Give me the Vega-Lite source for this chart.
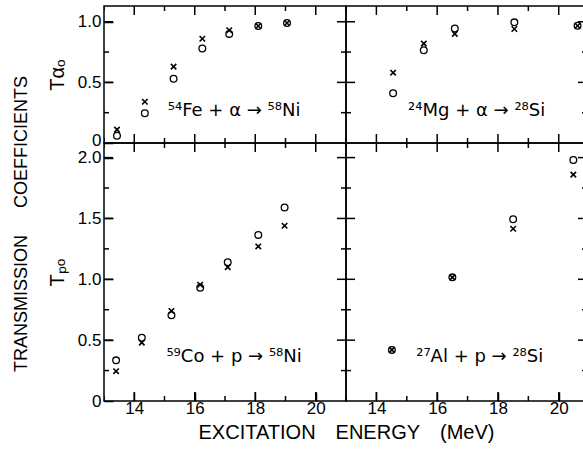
{
  "$schema": "https://vega.github.io/schema/vega-lite/v6.json",
  "padding": {"left": 12, "top": 5, "right": 0, "bottom": 5},
  "background": "white",
  "bounds": "flush",
  "spacing": 0,
  "columns": 2,
  "title": {"text": "TRANSMISSION\u2003\u2002COEFFICIENTS", "orient": "left", "anchor": "middle", "fontSize": 18, "fontWeight": "normal", "font": "Liberation Sans", "color": "black", "offset": 16},
  "config": {
    "view": {"stroke": "black", "strokeWidth": 1.5},
    "axis": {"grid": false, "domain": false, "tickColor": "black", "tickWidth": 1.5, "labelFont": "Liberation Sans", "labelFontSize": 17, "labelColor": "black", "titleFont": "Liberation Sans", "titleFontWeight": "normal", "titleColor": "black", "titleFontSize": 20, "labelOverlap": false, "labelFlush": false, "labelBound": false},
    "tick": {"color": "black", "opacity": 1, "thickness": 1.5},
    "font": "Liberation Sans"
  },
  "datasets": {
    "xt": [
      {"v": 13, "major": false}, {"v": 14, "major": true}, {"v": 15, "major": false}, {"v": 16, "major": true},
      {"v": 17, "major": false}, {"v": 18, "major": true}, {"v": 19, "major": false}, {"v": 20, "major": true}, {"v": 21, "major": false}
    ],
    "ytA": [
      {"v": 0.25, "major": false}, {"v": 0.5, "major": true}, {"v": 0.75, "major": false}, {"v": 1.0, "major": true}
    ],
    "ytP": [
      {"v": 0.25, "major": false}, {"v": 0.5, "major": true}, {"v": 0.75, "major": false}, {"v": 1.0, "major": true},
      {"v": 1.25, "major": false}, {"v": 1.5, "major": true}, {"v": 1.75, "major": false}, {"v": 2.0, "major": true}
    ],
    "pts": [
      {"panel": "fe", "symbol": "circle", "E": 13.43, "T": 0.06},
      {"panel": "fe", "symbol": "circle", "E": 14.35, "T": 0.245},
      {"panel": "fe", "symbol": "circle", "E": 15.3, "T": 0.53},
      {"panel": "fe", "symbol": "circle", "E": 16.25, "T": 0.78},
      {"panel": "fe", "symbol": "circle", "E": 17.14, "T": 0.9},
      {"panel": "fe", "symbol": "circle", "E": 18.1, "T": 0.965},
      {"panel": "fe", "symbol": "circle", "E": 19.05, "T": 0.99},
      {"panel": "fe", "symbol": "cross", "E": 13.43, "T": 0.11},
      {"panel": "fe", "symbol": "cross", "E": 14.35, "T": 0.34},
      {"panel": "fe", "symbol": "cross", "E": 15.3, "T": 0.63},
      {"panel": "fe", "symbol": "cross", "E": 16.25, "T": 0.86},
      {"panel": "fe", "symbol": "cross", "E": 17.14, "T": 0.93},
      {"panel": "fe", "symbol": "cross", "E": 18.1, "T": 0.965},
      {"panel": "fe", "symbol": "cross", "E": 19.05, "T": 0.99},
      {"panel": "mg", "symbol": "circle", "E": 14.55, "T": 0.41},
      {"panel": "mg", "symbol": "circle", "E": 15.56, "T": 0.765},
      {"panel": "mg", "symbol": "circle", "E": 16.58, "T": 0.945},
      {"panel": "mg", "symbol": "circle", "E": 18.54, "T": 0.995},
      {"panel": "mg", "symbol": "circle", "E": 20.62, "T": 0.967},
      {"panel": "mg", "symbol": "cross", "E": 14.55, "T": 0.58},
      {"panel": "mg", "symbol": "cross", "E": 15.56, "T": 0.82},
      {"panel": "mg", "symbol": "cross", "E": 16.58, "T": 0.9},
      {"panel": "mg", "symbol": "cross", "E": 18.54, "T": 0.94},
      {"panel": "mg", "symbol": "cross", "E": 20.62, "T": 0.967},
      {"panel": "co", "symbol": "circle", "E": 13.4, "T": 0.334},
      {"panel": "co", "symbol": "circle", "E": 14.25, "T": 0.52},
      {"panel": "co", "symbol": "circle", "E": 15.23, "T": 0.705},
      {"panel": "co", "symbol": "circle", "E": 16.18, "T": 0.93},
      {"panel": "co", "symbol": "circle", "E": 17.09, "T": 1.14},
      {"panel": "co", "symbol": "circle", "E": 18.1, "T": 1.365},
      {"panel": "co", "symbol": "circle", "E": 18.97, "T": 1.59},
      {"panel": "co", "symbol": "cross", "E": 13.4, "T": 0.245},
      {"panel": "co", "symbol": "cross", "E": 14.25, "T": 0.48},
      {"panel": "co", "symbol": "cross", "E": 15.23, "T": 0.74},
      {"panel": "co", "symbol": "cross", "E": 16.18, "T": 0.955},
      {"panel": "co", "symbol": "cross", "E": 17.09, "T": 1.1},
      {"panel": "co", "symbol": "cross", "E": 18.1, "T": 1.27},
      {"panel": "co", "symbol": "cross", "E": 18.97, "T": 1.44},
      {"panel": "al", "symbol": "circle", "E": 14.51, "T": 0.42},
      {"panel": "al", "symbol": "circle", "E": 16.5, "T": 1.016},
      {"panel": "al", "symbol": "circle", "E": 18.5, "T": 1.494},
      {"panel": "al", "symbol": "circle", "E": 20.48, "T": 1.98},
      {"panel": "al", "symbol": "cross", "E": 14.51, "T": 0.42},
      {"panel": "al", "symbol": "cross", "E": 16.5, "T": 1.016},
      {"panel": "al", "symbol": "cross", "E": 18.5, "T": 1.415},
      {"panel": "al", "symbol": "cross", "E": 20.48, "T": 1.86}
    ]
  },
  "concat": [
    {
      "width": 242, "height": 137,
      "resolve": {"axis": {"x": "independent", "y": "independent"}},
      "layer": [
        {
          "data": {"name": "pts"},
          "transform": [{"filter": "datum.panel === 'fe' && datum.symbol === 'circle'"}],
          "mark": {"type": "point", "shape": "circle", "filled": false, "size": 45, "strokeWidth": 1.3, "color": "black", "opacity": 1},
          "encoding": {
            "x": {"field": "E", "type": "quantitative", "scale": {"domain": [13, 21], "nice": false, "zero": false}, "axis": null},
            "y": {"field": "T", "type": "quantitative", "scale": {"domain": [0, 1.13], "nice": false, "zero": false},
                  "axis": {"orient": "left", "values": [0, 0.5, 1.0], "labelExpr": "datum.value === 0 ? '0' : format(datum.value, '.1f')", "labelOffset": {"condition": {"test": "datum.value === 0", "value": -3}, "value": 0}, "tickSize": 9, "offset": -9, "labelPadding": 3, "title": "Tαₒ", "titlePadding": 10}}
          }
        },
        {
          "data": {"name": "pts"},
          "transform": [{"filter": "datum.panel === 'fe' && datum.symbol === 'cross'"}],
          "mark": {"type": "point", "shape": "M-1,-1L1,1M1,-1L-1,1", "filled": false, "size": 30, "strokeWidth": 1.6, "color": "black", "opacity": 1},
          "encoding": {
            "x": {"field": "E", "type": "quantitative", "axis": null},
            "y": {"field": "T", "type": "quantitative", "axis": null}
          }
        },
        {
          "data": {"values": [{}]},
          "mark": {"type": "text", "font": "DejaVu Sans", "fontSize": 18, "color": "black"},
          "encoding": {
            "x": {"datum": 17.3, "type": "quantitative", "axis": null},
            "y": {"datum": 0.26, "type": "quantitative", "axis": null},
            "text": {"value": "⁵⁴Fe + α → ⁵⁸Ni"}
          }
        },
        {
          "data": {"name": "xt"},
          "mark": {"type": "tick", "orient": "vertical", "clip": true},
          "encoding": {
            "x": {"field": "v", "type": "quantitative", "axis": null},
            "y": {"datum": 0, "type": "quantitative", "axis": null},
            "size": {"condition": {"test": "datum.major", "value": 18}, "value": 10}
          }
        },
        {
          "data": {"name": "xt"},
          "mark": {"type": "tick", "orient": "vertical", "clip": true},
          "encoding": {
            "x": {"field": "v", "type": "quantitative", "axis": null},
            "y": {"datum": 1.13, "type": "quantitative", "axis": null},
            "size": {"condition": {"test": "datum.major", "value": 18}, "value": 10}
          }
        },
        {
          "data": {"name": "ytA"},
          "mark": {"type": "tick", "orient": "horizontal", "clip": true},
          "encoding": {
            "y": {"field": "v", "type": "quantitative", "axis": null},
            "x": {"datum": 13, "type": "quantitative", "axis": null},
            "size": {"condition": {"test": "datum.major", "value": 18}, "value": 10}
          }
        },
        {
          "data": {"name": "ytA"},
          "mark": {"type": "tick", "orient": "horizontal", "clip": true},
          "encoding": {
            "y": {"field": "v", "type": "quantitative", "axis": null},
            "x": {"datum": 21, "type": "quantitative", "axis": null},
            "size": {"condition": {"test": "datum.major", "value": 18}, "value": 10}
          }
        }
      ]
    },
    {
      "width": 241, "height": 137,
      "resolve": {"axis": {"x": "independent", "y": "independent"}},
      "layer": [
        {
          "data": {"name": "pts"},
          "transform": [{"filter": "datum.panel === 'mg' && datum.symbol === 'circle'"}],
          "mark": {"type": "point", "shape": "circle", "filled": false, "size": 45, "strokeWidth": 1.3, "color": "black", "opacity": 1},
          "encoding": {
            "x": {"field": "E", "type": "quantitative", "scale": {"domain": [13, 20.93], "nice": false, "zero": false}, "axis": null},
            "y": {"field": "T", "type": "quantitative", "scale": {"domain": [0, 1.13], "nice": false, "zero": false}, "axis": null}
          }
        },
        {
          "data": {"name": "pts"},
          "transform": [{"filter": "datum.panel === 'mg' && datum.symbol === 'cross'"}],
          "mark": {"type": "point", "shape": "M-1,-1L1,1M1,-1L-1,1", "filled": false, "size": 30, "strokeWidth": 1.6, "color": "black", "opacity": 1},
          "encoding": {
            "x": {"field": "E", "type": "quantitative", "axis": null},
            "y": {"field": "T", "type": "quantitative", "axis": null}
          }
        },
        {
          "data": {"values": [{}]},
          "mark": {"type": "text", "font": "DejaVu Sans", "fontSize": 18, "color": "black"},
          "encoding": {
            "x": {"datum": 17.3, "type": "quantitative", "axis": null},
            "y": {"datum": 0.26, "type": "quantitative", "axis": null},
            "text": {"value": "²⁴Mg + α → ²⁸Si"}
          }
        },
        {
          "data": {"name": "xt"},
          "mark": {"type": "tick", "orient": "vertical", "clip": true},
          "encoding": {
            "x": {"field": "v", "type": "quantitative", "axis": null},
            "y": {"datum": 0, "type": "quantitative", "axis": null},
            "size": {"condition": {"test": "datum.major", "value": 18}, "value": 10}
          }
        },
        {
          "data": {"name": "xt"},
          "mark": {"type": "tick", "orient": "vertical", "clip": true},
          "encoding": {
            "x": {"field": "v", "type": "quantitative", "axis": null},
            "y": {"datum": 1.13, "type": "quantitative", "axis": null},
            "size": {"condition": {"test": "datum.major", "value": 18}, "value": 10}
          }
        },
        {
          "data": {"name": "ytA"},
          "mark": {"type": "tick", "orient": "horizontal", "clip": true},
          "encoding": {
            "y": {"field": "v", "type": "quantitative", "axis": null},
            "x": {"datum": 13, "type": "quantitative", "axis": null},
            "size": {"condition": {"test": "datum.major", "value": 18}, "value": 10}
          }
        },
        {
          "data": {"name": "ytA"},
          "mark": {"type": "tick", "orient": "horizontal", "clip": true},
          "encoding": {
            "y": {"field": "v", "type": "quantitative", "axis": null},
            "x": {"datum": 20.93, "type": "quantitative", "axis": null},
            "size": {"condition": {"test": "datum.major", "value": 18}, "value": 10}
          }
        }
      ]
    },
    {
      "width": 242, "height": 258,
      "resolve": {"axis": {"x": "independent", "y": "independent"}},
      "layer": [
        {
          "data": {"name": "pts"},
          "transform": [{"filter": "datum.panel === 'co' && datum.symbol === 'circle'"}],
          "mark": {"type": "point", "shape": "circle", "filled": false, "size": 45, "strokeWidth": 1.3, "color": "black", "opacity": 1},
          "encoding": {
            "x": {"field": "E", "type": "quantitative", "scale": {"domain": [13, 21], "nice": false, "zero": false},
                  "axis": {"orient": "bottom", "values": [14, 16, 18, 20], "labelPadding": -1, "tickSize": 9, "offset": -9, "title": "EXCITATION\u2003ENERGY\u2003(MeV)", "titleX": 242, "titleAlign": "center", "titleFontSize": 20, "titlePadding": 6}},
            "y": {"field": "T", "type": "quantitative", "scale": {"domain": [0, 2.12], "nice": false, "zero": false},
                  "axis": {"orient": "left", "values": [0, 0.5, 1.0, 1.5, 2.0], "labelExpr": "datum.value === 0 ? '0' : format(datum.value, '.1f')", "tickSize": 9, "offset": -9, "labelPadding": 3, "title": "Tₚₒ", "titlePadding": 10}}
          }
        },
        {
          "data": {"name": "pts"},
          "transform": [{"filter": "datum.panel === 'co' && datum.symbol === 'cross'"}],
          "mark": {"type": "point", "shape": "M-1,-1L1,1M1,-1L-1,1", "filled": false, "size": 30, "strokeWidth": 1.6, "color": "black", "opacity": 1},
          "encoding": {
            "x": {"field": "E", "type": "quantitative", "axis": null},
            "y": {"field": "T", "type": "quantitative", "axis": null}
          }
        },
        {
          "data": {"values": [{}]},
          "mark": {"type": "text", "font": "DejaVu Sans", "fontSize": 18, "color": "black"},
          "encoding": {
            "x": {"datum": 17.3, "type": "quantitative", "axis": null},
            "y": {"datum": 0.36, "type": "quantitative", "axis": null},
            "text": {"value": "⁵⁹Co + p → ⁵⁸Ni"}
          }
        },
        {
          "data": {"name": "xt"},
          "mark": {"type": "tick", "orient": "vertical", "clip": true},
          "encoding": {
            "x": {"field": "v", "type": "quantitative", "axis": null},
            "y": {"datum": 0, "type": "quantitative", "axis": null},
            "size": {"condition": {"test": "datum.major", "value": 18}, "value": 10}
          }
        },
        {
          "data": {"name": "xt"},
          "mark": {"type": "tick", "orient": "vertical", "clip": true},
          "encoding": {
            "x": {"field": "v", "type": "quantitative", "axis": null},
            "y": {"datum": 2.12, "type": "quantitative", "axis": null},
            "size": {"condition": {"test": "datum.major", "value": 18}, "value": 10}
          }
        },
        {
          "data": {"name": "ytP"},
          "mark": {"type": "tick", "orient": "horizontal", "clip": true},
          "encoding": {
            "y": {"field": "v", "type": "quantitative", "axis": null},
            "x": {"datum": 13, "type": "quantitative", "axis": null},
            "size": {"condition": {"test": "datum.major", "value": 18}, "value": 10}
          }
        },
        {
          "data": {"name": "ytP"},
          "mark": {"type": "tick", "orient": "horizontal", "clip": true},
          "encoding": {
            "y": {"field": "v", "type": "quantitative", "axis": null},
            "x": {"datum": 21, "type": "quantitative", "axis": null},
            "size": {"condition": {"test": "datum.major", "value": 18}, "value": 10}
          }
        }
      ]
    },
    {
      "width": 241, "height": 258,
      "resolve": {"axis": {"x": "independent", "y": "independent"}},
      "layer": [
        {
          "data": {"name": "pts"},
          "transform": [{"filter": "datum.panel === 'al' && datum.symbol === 'circle'"}],
          "mark": {"type": "point", "shape": "circle", "filled": false, "size": 45, "strokeWidth": 1.3, "color": "black", "opacity": 1},
          "encoding": {
            "x": {"field": "E", "type": "quantitative", "scale": {"domain": [13, 20.93], "nice": false, "zero": false},
                  "axis": {"orient": "bottom", "values": [14, 16, 18, 20], "labelPadding": -1, "tickSize": 9, "offset": -9, "title": null}},
            "y": {"field": "T", "type": "quantitative", "scale": {"domain": [0, 2.12], "nice": false, "zero": false}, "axis": null}
          }
        },
        {
          "data": {"name": "pts"},
          "transform": [{"filter": "datum.panel === 'al' && datum.symbol === 'cross'"}],
          "mark": {"type": "point", "shape": "M-1,-1L1,1M1,-1L-1,1", "filled": false, "size": 30, "strokeWidth": 1.6, "color": "black", "opacity": 1},
          "encoding": {
            "x": {"field": "E", "type": "quantitative", "axis": null},
            "y": {"field": "T", "type": "quantitative", "axis": null}
          }
        },
        {
          "data": {"values": [{}]},
          "mark": {"type": "text", "font": "DejaVu Sans", "fontSize": 18, "color": "black"},
          "encoding": {
            "x": {"datum": 17.4, "type": "quantitative", "axis": null},
            "y": {"datum": 0.36, "type": "quantitative", "axis": null},
            "text": {"value": "²⁷Al + p → ²⁸Si"}
          }
        },
        {
          "data": {"name": "xt"},
          "mark": {"type": "tick", "orient": "vertical", "clip": true},
          "encoding": {
            "x": {"field": "v", "type": "quantitative", "axis": null},
            "y": {"datum": 0, "type": "quantitative", "axis": null},
            "size": {"condition": {"test": "datum.major", "value": 18}, "value": 10}
          }
        },
        {
          "data": {"name": "xt"},
          "mark": {"type": "tick", "orient": "vertical", "clip": true},
          "encoding": {
            "x": {"field": "v", "type": "quantitative", "axis": null},
            "y": {"datum": 2.12, "type": "quantitative", "axis": null},
            "size": {"condition": {"test": "datum.major", "value": 18}, "value": 10}
          }
        },
        {
          "data": {"name": "ytP"},
          "mark": {"type": "tick", "orient": "horizontal", "clip": true},
          "encoding": {
            "y": {"field": "v", "type": "quantitative", "axis": null},
            "x": {"datum": 13, "type": "quantitative", "axis": null},
            "size": {"condition": {"test": "datum.major", "value": 18}, "value": 10}
          }
        },
        {
          "data": {"name": "ytP"},
          "mark": {"type": "tick", "orient": "horizontal", "clip": true},
          "encoding": {
            "y": {"field": "v", "type": "quantitative", "axis": null},
            "x": {"datum": 20.93, "type": "quantitative", "axis": null},
            "size": {"condition": {"test": "datum.major", "value": 18}, "value": 10}
          }
        }
      ]
    }
  ]
}
